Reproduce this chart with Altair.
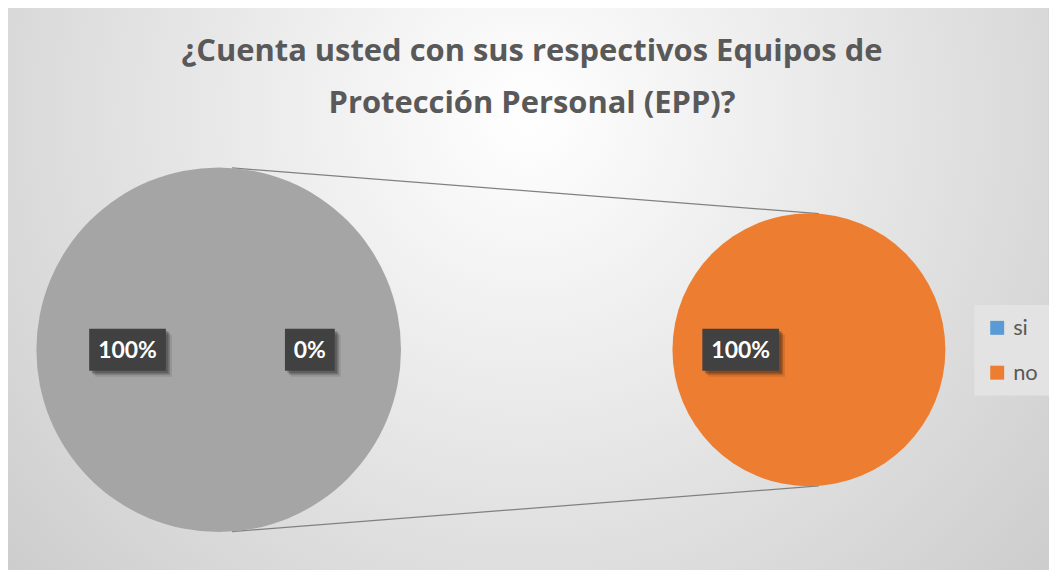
import math
import altair as alt
import pandas as pd

# ---------------- data ----------------
categories = ["si", "no"]
cat_colors = ["#5B9BD5", "#ED7D31"]
main_slices = ["si", "Otro"]
main_values = [0, 100]
main_pct = ["0%", "100%"]
sec_slices = ["no"]
sec_values = [100]
sec_pct = ["100%"]
title_lines = ["¿Cuenta usted con sus respectivos Equipos de", "Protección Personal (EPP)?"]

# ---------------- layout ----------------
W, H = 1045, 562
OX, OY = 8, 8


def px(x):
    return x - OX


def py(y):
    return y - OY


main_cx, main_cy, main_r = px(219.5), py(350), 183
sec_cx, sec_cy, sec_r = px(812), py(350), 137
GRAY = "#A5A5A5"
TXT = "#595959"
FONT = "Lato"

layers = []

# background with radial gradient
bg = alt.Chart(pd.DataFrame({"a": [0]})).mark_rect(
    fill={
        "gradient": "radial",
        "stops": [
            {"offset": 0, "color": "#ffffff"},
            {"offset": 1, "color": "#c4c4c4"},
        ],
        "x1": 0.5, "y1": 0.33, "r1": 0,
        "x2": 0.5, "y2": 0.33, "r2": 0.78,
    },
    stroke="#d0d0d0",
    strokeWidth=1,
).encode(x=alt.value(-1), x2=alt.value(W), y=alt.value(-5), y2=alt.value(H + 10))
layers.append(bg)

# connector lines
ang = math.radians(4.2)
for sgn in (-1, 1):
    x1 = main_cx + main_r * math.sin(ang)
    y1 = main_cy + sgn * main_r * math.cos(ang)
    x2 = sec_cx + sec_r * math.sin(ang)
    y2 = sec_cy + sgn * sec_r * math.cos(ang)
    layers.append(
        alt.Chart(pd.DataFrame({"a": [0]})).mark_rule(color="#808080", strokeWidth=1.3).encode(
            x=alt.value(x1), y=alt.value(y1), x2=alt.value(x2), y2=alt.value(y2)
        )
    )

# main pie
main_df = pd.DataFrame({"cat": main_slices, "val": main_values, "ord": [0, 1]})
main_pie = alt.Chart(main_df).mark_arc(outerRadius=main_r, fill=GRAY).encode(
    theta=alt.Theta("val:Q", stack=True, scale=alt.Scale(range=[math.pi / 2, 5 * math.pi / 2])),
    order=alt.Order("ord:Q"),
    x=alt.value(main_cx),
    y=alt.value(main_cy),
)
layers.append(main_pie)

# secondary pie
sec_df = pd.DataFrame({"cat": sec_slices, "val": sec_values})
sec_pie = alt.Chart(sec_df).mark_arc(outerRadius=sec_r).encode(
    theta=alt.Theta("val:Q"),
    color=alt.Color(
        "cat:N",
        scale=alt.Scale(domain=categories, range=cat_colors),
        legend=alt.Legend(
            title=None,
            orient="none",
            legendX=px(978),
            legendY=px(305),
            fillColor="#e3e3e3",
            padding=12,
            symbolType="square",
            symbolSize=196,
            symbolStrokeWidth=0,
            labelFontSize=22,
            labelFont=FONT,
            labelColor=TXT,
            rowPadding=23,
            labelOffset=5,
        ),
    ),
    x=alt.value(sec_cx),
    y=alt.value(sec_cy),
)
layers.append(sec_pie)

# data labels (dark boxes)
label_specs = [
    (main_pct[1], main_cx - 0.5 * main_r, main_cy, 77),
    (main_pct[0], main_cx + 0.5 * main_r, main_cy, 50),
    (sec_pct[0], sec_cx - 0.5 * sec_r, sec_cy, 77),
]
for txt, cx, cy, bw in label_specs:
    bh = 42
    d = pd.DataFrame({"a": [0]})
    for off, op in ((6, 0.10), (4, 0.18), (2.5, 0.22)):
        layers.append(
            alt.Chart(d).mark_rect(fill="black", opacity=op).encode(
                x=alt.value(cx - bw / 2 + off), x2=alt.value(cx + bw / 2 + off),
                y=alt.value(cy - bh / 2 + off), y2=alt.value(cy + bh / 2 + off),
            )
        )
    layers.append(
        alt.Chart(d).mark_rect(fill="#414141").encode(
            x=alt.value(cx - bw / 2), x2=alt.value(cx + bw / 2),
            y=alt.value(cy - bh / 2), y2=alt.value(cy + bh / 2),
        )
    )
    layers.append(
        alt.Chart(d).mark_text(
            font=FONT, fontWeight="bold", fontSize=23, color="white",
            align="center", baseline="alphabetic",
        ).encode(x=alt.value(cx), y=alt.value(cy + 8.5), text=alt.value(txt))
    )

# title
for i, line in enumerate(title_lines):
    layers.append(
        alt.Chart(pd.DataFrame({"a": [0]})).mark_text(
            font="Open Sans", fontWeight="bold", fontSize=31, color=TXT,
            align="center", baseline="alphabetic",
        ).encode(x=alt.value(px(534)), y=alt.value(py(60 + 52 * i)), text=alt.value(line))
    )

chart = alt.layer(*layers).properties(
    width=W, height=H, padding=0, autosize=alt.AutoSizeParams(type="none"), background="white"
).configure_view(stroke=None)

chart.save("out.html", embed_options={"renderer": "svg", "actions": False})
